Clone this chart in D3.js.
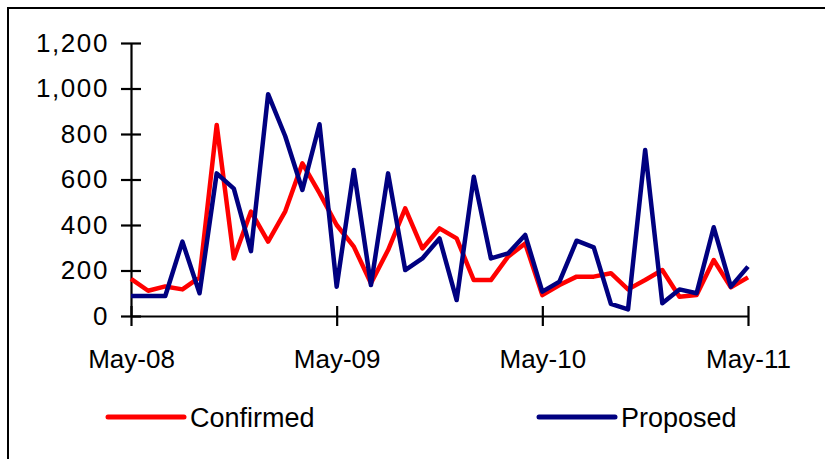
<!DOCTYPE html>
<html>
<head>
<meta charset="utf-8">
<script src="https://cdn.jsdelivr.net/npm/d3@7"></script>
<style>
  html, body { margin: 0; padding: 0; background: #fff; }
  svg { display: block; }
  text { font-family: "Liberation Sans", Arial, sans-serif; fill: #000; }
</style>
</head>
<body>
<svg id="chart" width="825" height="459"></svg>
<script>
// Monthly deal counts, May 2008 – May 2011
const months = [
  "2008-05","2008-06","2008-07","2008-08","2008-09","2008-10","2008-11","2008-12",
  "2009-01","2009-02","2009-03","2009-04","2009-05","2009-06","2009-07","2009-08",
  "2009-09","2009-10","2009-11","2009-12","2010-01","2010-02","2010-03","2010-04",
  "2010-05","2010-06","2010-07","2010-08","2010-09","2010-10","2010-11","2010-12",
  "2011-01","2011-02","2011-03","2011-04","2011-05"
];
const confirmed = [
  163, 111, 130, 117, 170, 840, 253, 459, 327, 460, 671, 540,
  400, 305, 144, 290, 473, 297, 385, 341, 158, 158, 261, 319,
  92, 136, 173, 173, 188, 117, 158, 202, 85, 92, 246, 126, 170
];
const proposed = [
  88, 88, 88, 327, 100, 627, 560, 285, 975, 790, 554, 843,
  129, 642, 136, 627, 202, 253, 341, 70, 612, 253, 275, 356,
  107, 151, 331, 302, 53, 29, 730, 56, 117, 100, 390, 129, 217
];
const xTickMonths = ["2008-05", "2009-05", "2010-05", "2011-05"];
const xTickLabels = ["May-08", "May-09", "May-10", "May-11"];
const yTicks = [0, 200, 400, 600, 800, 1000, 1200];
const seriesNames = ["Confirmed", "Proposed"];
const seriesColors = ["#ff0000", "#000080"];

const svg = d3.select("#chart");

// outer frame (top and left edges visible)
svg.append("path")
  .attr("d", "M8,459 L8,8 L825,8")
  .attr("fill", "none")
  .attr("stroke", "#000")
  .attr("stroke-width", 2);

const x = d3.scalePoint().domain(months).range([131, 748]);
const y = d3.scaleLinear().domain([0, 1200]).range([316, 43]);

// y axis
const yAxis = svg.append("g")
  .attr("transform", "translate(131,0)")
  .call(d3.axisLeft(y).tickValues(yTicks).tickFormat(d3.format(",")).tickSizeOuter(0).tickPadding(16));
yAxis.select(".domain").attr("stroke", "#000").attr("stroke-width", 2.2);
yAxis.selectAll(".tick line").attr("x1", 10).attr("x2", -10).attr("stroke-width", 2.2);
yAxis.selectAll(".tick text")
  .attr("font-size", 26)
  .attr("letter-spacing", "1.6px")
  .attr("font-family", "Liberation Sans, Arial, sans-serif")
  .attr("fill", "#111");

// x axis
const xAxis = svg.append("g")
  .attr("transform", "translate(0,316)")
  .call(d3.axisBottom(x).tickValues(xTickMonths)
    .tickFormat((d, i) => xTickLabels[i]).tickSizeOuter(0).tickPadding(28));
xAxis.select(".domain").attr("stroke", "#000").attr("stroke-width", 2.2);
xAxis.selectAll(".tick line").attr("y1", -10).attr("y2", 10).attr("stroke-width", 2.2);
xAxis.selectAll(".tick text")
  .attr("font-size", 26)
  .attr("font-family", "Liberation Sans, Arial, sans-serif")
  .attr("fill", "#111");

// series lines
const line = d3.line()
  .x((d, i) => x(months[i]))
  .y(d => y(d));

[confirmed, proposed].forEach((vals, k) => {
  svg.append("path")
    .datum(vals)
    .attr("d", line)
    .attr("fill", "none")
    .attr("stroke", seriesColors[k])
    .attr("stroke-width", 4.5)
    .attr("stroke-linejoin", "round")
    .attr("stroke-linecap", "butt");
});

// legend
const legendX = [108, 539];
const legend = svg.append("g");
seriesNames.forEach((name, k) => {
  legend.append("line")
    .attr("x1", legendX[k]).attr("x2", legendX[k] + 76)
    .attr("y1", 417).attr("y2", 417)
    .attr("stroke", seriesColors[k])
    .attr("stroke-width", 5)
    .attr("stroke-linecap", "round");
  legend.append("text")
    .attr("x", legendX[k] + 82)
    .attr("y", 427)
    .attr("font-size", 27)
    .attr("fill", "#111")
    .text(name);
});
</script>
</body>
</html>
